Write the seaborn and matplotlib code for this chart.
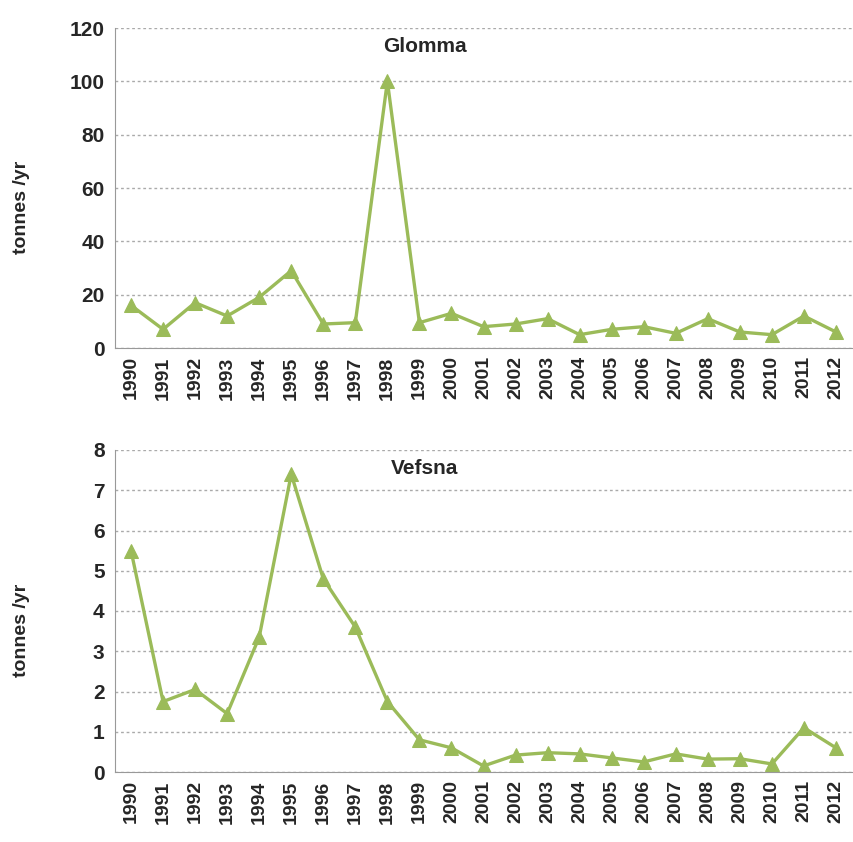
import seaborn as sns
import matplotlib.pyplot as plt
import pandas as pd
import numpy as np

# data
years = [str(y) for y in range(1990, 2013)]
glomma = [16, 7, 17, 12, 19, 29, 9, 9.5, 100, 9.5, 13, 8, 9, 11, 5, 7, 8, 5.5, 11, 6, 5, 12, 6]
vefsna = [5.5, 1.75, 2.05, 1.45, 3.35, 7.4, 4.8, 3.6, 1.75, 0.8, 0.6, 0.15, 0.42, 0.48,
          0.45, 0.35, 0.25, 0.45, 0.32, 0.33, 0.2, 1.1, 0.6]

sns.set_style("white")
plt.rcParams['font.family'] = ['Liberation Sans', 'DejaVu Sans']

green = '#9bbb59'

fig = plt.figure(figsize=(8.54, 8.42), dpi=100)
ax1 = fig.add_axes([115/854, 1 - 348/842, 737/854, 320/842])
ax2 = fig.add_axes([115/854, 1 - 772/842, 737/854, 322/842])

panels = [(ax1, glomma, 'Glomma', 120, 20), (ax2, vefsna, 'Vefsna', 8, 1)]
for ax, vals, name, ymax, step in panels:
    df = pd.DataFrame({'i': np.arange(len(years)), 'v': vals})
    sns.lineplot(data=df, x='i', y='v', ax=ax, color=green, lw=2.4,
                 marker='^', markersize=10, markeredgecolor=green, markerfacecolor=green)
    ax.set_xlim(-0.5, len(years) - 0.5)
    ax.set_ylim(0, ymax)
    ax.set_yticks(np.arange(0, ymax + step / 2, step))
    ax.set_xticks(np.arange(len(years)))
    ax.set_xticklabels(years, rotation=90, fontsize=14, fontweight='bold')
    ax.set_xticks(np.arange(-0.5, len(years), 1), minor=True)
    ax.tick_params(axis='x', which='major', length=0, pad=6)
    ax.tick_params(axis='x', which='minor', length=4, color='#999999', direction='out')
    ax.tick_params(axis='y', labelsize=15, length=4, color='#999999', direction='out')
    for lab in ax.get_yticklabels():
        lab.set_fontweight('bold')
    ax.grid(axis='y', color='#aaaaaa', linestyle=(0, (2, 2)), lw=1)
    ax.set_axisbelow(True)
    for s in ['top', 'right']:
        ax.spines[s].set_visible(False)
    for s in ['left', 'bottom']:
        ax.spines[s].set_color('#999999')
    ax.set_xlabel('')
    ax.set_ylabel('tonnes /yr', fontsize=14, fontweight='bold')
    ax.yaxis.set_label_coords(-0.115, 0.44)
    ax.text(0.42, 0.925, name, transform=ax.transAxes, fontsize=15, fontweight='bold', ha='center')

fig.savefig('out.png', dpi=100)
